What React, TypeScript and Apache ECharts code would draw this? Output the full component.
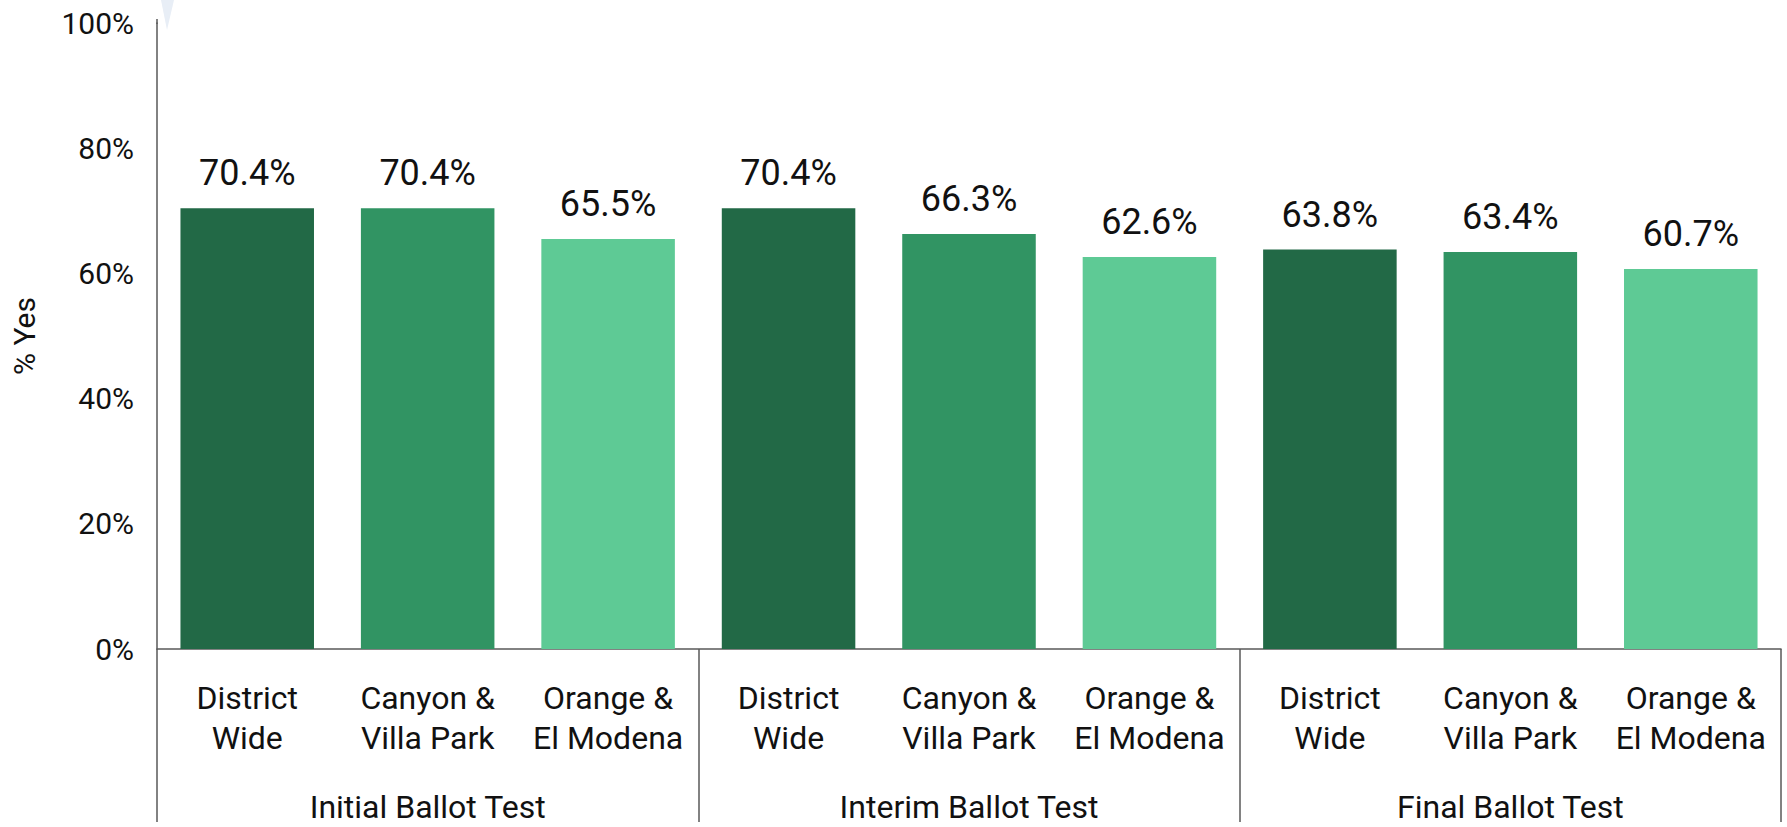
import React, { useEffect, useRef } from "react";
import * as echarts from "echarts";

const categories = [
  "District\nWide", "Canyon &\nVilla Park", "Orange &\nEl Modena",
  "District\nWide", "Canyon &\nVilla Park", "Orange &\nEl Modena",
  "District\nWide", "Canyon &\nVilla Park", "Orange &\nEl Modena",
];
const groups = ["Initial Ballot Test", "Interim Ballot Test", "Final Ballot Test"];
const values = [70.4, 70.4, 65.5, 70.4, 66.3, 62.6, 63.8, 63.4, 60.7];
const barColors = ["#226946", "#319463", "#5eca95"];
const yTicks = [0, 20, 40, 60, 80, 100];

const FONT = "Roboto";

export default function App() {
  const ref = useRef<HTMLDivElement>(null);
  useEffect(() => {
    if (!ref.current) return;
    const chart = echarts.init(ref.current, undefined, { renderer: "svg" });
    chart.setOption({
      animation: false,
      textStyle: { fontFamily: FONT },
      grid: { left: 157, right: 6, top: 23, bottom: 173, containLabel: false },
      xAxis: [
        {
          type: "category",
          data: categories,
          position: "bottom",
          axisLine: { show: true, lineStyle: { color: "#595959", width: 1.5 } },
          axisTick: { show: false },
          axisLabel: {
            interval: 0,
            margin: 29,
            fontSize: 32,
            lineHeight: 40,
            color: "#111",
            fontFamily: FONT,
          },
        },
        {
          type: "category",
          data: groups,
          position: "bottom",
          axisLine: { show: false },
          axisTick: { show: true, length: 173, interval: 0, lineStyle: { color: "#595959", width: 1.5 } },
          axisLabel: {
            interval: 0,
            margin: 138,
            fontSize: 32,
            lineHeight: 40,
            color: "#111",
            fontFamily: FONT,
          },
        },
      ],
      yAxis: {
        type: "value",
        min: yTicks[0],
        max: yTicks[yTicks.length - 1],
        interval: 20,
        name: "% Yes",
        nameLocation: "middle",
        nameRotate: 90,
        nameGap: 118,
        nameTextStyle: { fontSize: 30, color: "#111", fontFamily: FONT },
        splitLine: { show: false },
        axisTick: { show: false },
        axisLine: { show: true, lineStyle: { color: "#595959", width: 1.5 } },
        axisLabel: {
          formatter: (v: number) => `${v}%`,
          fontSize: 30,
          margin: 23,
          color: "#111",
          fontFamily: FONT,
        },
      },
      graphic: [
        {
          type: "line",
          shape: { x1: 157, y1: 19, x2: 157, y2: 24 },
          style: { stroke: "#595959", lineWidth: 1.5 },
        },
        {
          type: "polygon",
          shape: { points: [[161, 0], [174, 0], [167, 30]] },
          style: { fill: "#e8eef6" },
        },
      ],
      series: [
        {
          type: "bar",
          xAxisIndex: 0,
          barWidth: "74%",
          data: values.map((v, i) => ({ value: v, itemStyle: { color: barColors[i % 3] } })),
          label: {
            show: true,
            position: "top",
            distance: 17,
            fontSize: 36,
            color: "#111",
            fontFamily: FONT,
            formatter: (p: any) => `${Number(p.value).toFixed(1)}%`,
          },
        },
      ],
    });
    return () => chart.dispose();
  }, []);
  return (
    <div
      ref={ref}
      style={{ position: "fixed", left: 0, top: 0, width: 1787, height: 827, background: "#fff" }}
    />
  );
}
